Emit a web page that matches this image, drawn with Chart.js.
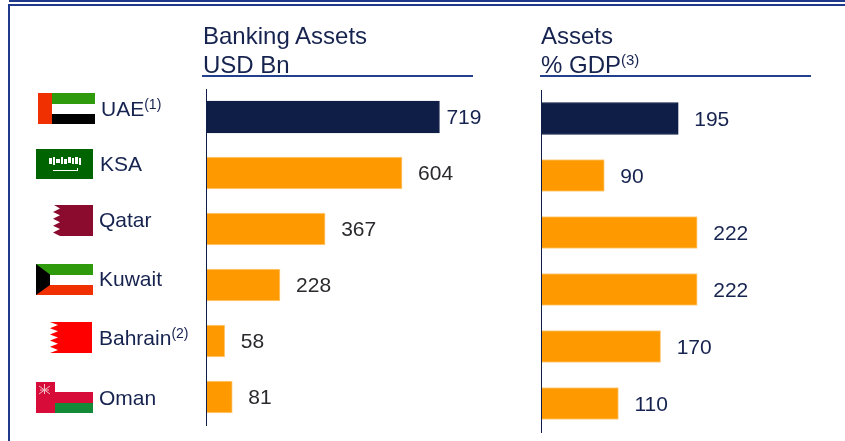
<!DOCTYPE html>
<html>
<head>
<meta charset="utf-8">
<script src="https://cdn.jsdelivr.net/npm/chart.js@4"></script>
<style>
html,body{margin:0;padding:0;background:#fff;overflow:hidden}
body{width:845px;height:441px;position:relative;font-family:"Liberation Sans",Arial,sans-serif;color:#16234f}
.abs{position:absolute}
canvas{position:absolute;top:0}
.head{font-size:24px;line-height:29px;white-space:nowrap}
.head sup{font-size:15px;line-height:0;vertical-align:8px}
</style>
</head>
<body>
<div class="abs" style="left:9px;top:0;width:836px;height:2px;background:#1f3a8a"></div>
<div class="abs" style="left:8px;top:4px;width:837px;height:2px;background:#1f3a8a"></div>
<div class="abs" style="left:8px;top:4px;width:2px;height:437px;background:#1f3a8a"></div>

<div style="position:absolute;left:0;top:0;width:530px;height:441px"><canvas id="left"></canvas></div>
<div style="position:absolute;left:530px;top:0;width:315px;height:441px"><canvas id="right"></canvas></div>

<div class="abs head" style="left:203px;top:21px">Banking Assets<br>USD Bn</div>
<div class="abs" style="left:202px;top:75px;width:271px;height:2px;background:#23408f"></div>
<div class="abs head" style="left:541px;top:21px">Assets<br>% GDP<sup>(3)</sup></div>
<div class="abs" style="left:540px;top:75px;width:271px;height:2px;background:#23408f"></div>

<svg class="abs" style="left:0;top:0" width="200" height="441" shape-rendering="crispEdges">
  <rect x="52" y="93" width="43" height="10.5" fill="#2e9a0c"/>
  <rect x="52" y="114" width="43" height="10" fill="#000"/>
  <rect x="38" y="93" width="14" height="31" fill="#f03000"/>

  <rect x="36" y="149" width="57" height="30" fill="#006400"/>
  <g fill="#fff">
    <rect x="49" y="158" width="3" height="6"/><rect x="53" y="157" width="2" height="8"/><rect x="56" y="159" width="4" height="4"/>
    <rect x="61" y="157" width="2" height="7"/><rect x="64" y="159" width="3" height="5"/><rect x="68" y="157" width="3" height="6"/>
    <rect x="72" y="158" width="2" height="6"/><rect x="75" y="157" width="3" height="7"/><rect x="79" y="158" width="2" height="7"/>
    <rect x="53" y="170" width="25" height="1"/><rect x="77" y="168" width="1" height="3"/>
  </g>

  <path shape-rendering="auto" fill="#8a0b2e" d="M93 205H54L60 208.4L53 211.9L60 215.3L53 218.8L60 222.2L53 225.7L60 229.1L53 232.6L60 236H93Z"/>

  <rect x="36" y="264" width="57" height="10.5" fill="#2e9a0c"/>
  <rect x="36" y="285" width="57" height="10" fill="#f03000"/>
  <path shape-rendering="auto" fill="#000" d="M36 264L50 274.5V285L36 295Z"/>

  <path shape-rendering="auto" fill="#ff0000" d="M92 322H50L58 325.1L50 328.2L58 331.3L50 334.4L58 337.5L50 340.6L58 343.7L50 346.8L58 349.900L50 353H92Z"/>

  <rect x="36" y="382" width="19" height="31" fill="#d80c38"/>
  <rect x="55" y="392" width="38" height="10.5" fill="#d80c38"/>
  <rect x="55" y="402.5" width="38" height="10.5" fill="#128a38"/>
  <g shape-rendering="auto" stroke="#f4c0c8" stroke-width="1" fill="none">
    <path d="M39 386L50 394M50 386L39 394M44.500 384V394M40 390H49"/>
  </g>
</svg>

<script>
const categories = ["UAE", "KSA", "Qatar", "Kuwait", "Bahrain", "Oman"];
const superscripts = ["(1)", "", "", "", "(2)", ""];
const bankingAssets = [719, 604, 367, 228, 58, 81];
const assetsGdp = [195, 90, 222, 222, 170, 110];

const NAVY = "#0f1e46", ORANGE = "#ff9900", EDGE = "#ffcf85", TEXT = "#16234f", FONT = '"Liberation Sans", Arial, sans-serif';
const barColors = categories.map((c, i) => i === 0 ? NAVY : ORANGE);
const barEdges = categories.map((c, i) => i === 0 ? NAVY : EDGE);

const labelLayout = [
  { x: 101, dy: -7 }, { x: 100, dy: -7.5 }, { x: 99, dy: -7.5 },
  { x: 99, dy: -5 }, { x: 99, dy: -1.5 }, { x: 99, dy: 2 }
];

const valueLabels = {
  id: "valueLabels",
  afterDatasetsDraw(chart, args, opts) {
    const { ctx, scales: { x, y } } = chart;
    const vals = chart.data.datasets[0].data;
    ctx.save();
    ctx.font = "21px " + FONT;
    ctx.textBaseline = "middle";
    ctx.textAlign = "left";
    vals.forEach((v, i) => {
      ctx.fillStyle = (opts.darkFrom !== undefined && i >= opts.darkFrom) ? "#2a2a2e" : TEXT;
      const gap = (opts.nearFirst && i === 0) ? 7 : 16;
      ctx.fillText(String(v), x.getPixelForValue(v) + gap, y.getPixelForValue(i) + 1.5);
    });
    ctx.restore();
  }
};

const categoryLabels = {
  id: "categoryLabels",
  afterDraw(chart, args, opts) {
    if (!opts.show) return;
    const { ctx, scales: { y } } = chart;
    ctx.save();
    ctx.fillStyle = TEXT;
    ctx.textBaseline = "middle";
    ctx.textAlign = "left";
    categories.forEach((name, i) => {
      const py = y.getPixelForValue(i) + labelLayout[i].dy;
      ctx.font = "21px " + FONT;
      ctx.fillText(name, labelLayout[i].x, py);
      if (superscripts[i]) {
        const w = ctx.measureText(name).width;
        ctx.font = "14px " + FONT;
        ctx.fillText(superscripts[i], labelLayout[i].x + w, py - 5);
      }
    });
    ctx.restore();
  }
};

function makeChart(id, data, xMax, yLeft, top, bottom, pluginOpts) {
  return new Chart(document.getElementById(id), {
    type: "bar",
    data: {
      labels: categories,
      datasets: [{
        data: data,
        backgroundColor: barColors,
        borderColor: barEdges,
        borderWidth: 1,
        barThickness: 32
      }]
    },
    options: {
      indexAxis: "y",
      responsive: true,
      maintainAspectRatio: false,
      animation: false,
      layout: { padding: { left: yLeft, right: 0, top: top, bottom: bottom } },
      scales: {
        x: { display: false, min: 0, max: xMax },
        y: {
          afterFit(s) { s.width = 1; },
          grid: { display: false },
          border: { display: true, color: NAVY, width: 1, z: 2 },
          ticks: { display: false }
        }
      },
      plugins: {
        legend: { display: false },
        tooltip: { enabled: false },
        title: { display: false },
        valueLabels: pluginOpts,
        categoryLabels: { show: !!pluginOpts.showCategories }
      }
    },
    plugins: [valueLabels, categoryLabels]
  });
}

makeChart("left", bankingAssets, 998, 205, 89, 16, { nearFirst: true, darkFrom: 1, showCategories: true });
makeChart("right", assetsGdp, 432, 10, 90, 9, {});
</script>
</body>
</html>
